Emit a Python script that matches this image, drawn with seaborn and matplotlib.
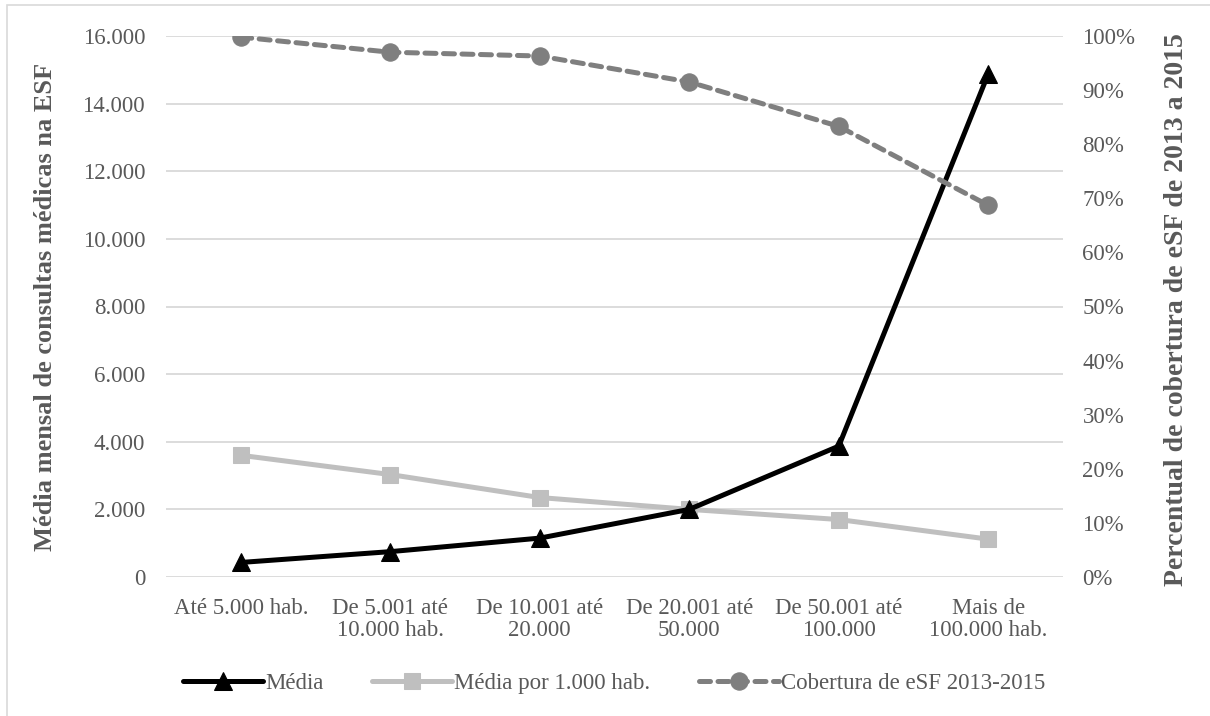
import matplotlib
matplotlib.use("Agg")
import matplotlib.pyplot as plt
import matplotlib.ticker as mticker
from matplotlib.patches import Rectangle
import seaborn as sns

categorias = ["Até 5.000 hab.", "De 5.001 até\n10.000 hab.", "De 10.001 até\n20.000",
              "De 20.001 até\n50.000", "De 50.001 até\n100.000", "Mais de\n100.000 hab."]
media = [430, 750, 1150, 2000, 3870, 14880]
media_por_mil = [3600, 3030, 2350, 2000, 1700, 1120]
cobertura = [0.998, 0.970, 0.963, 0.915, 0.833, 0.687]

cinza_texto = "#595959"

sns.set_style("white")
plt.rcParams["font.family"] = ["Liberation Serif", "DejaVu Serif"]

fig = plt.figure(figsize=(12.1, 7.16), dpi=100)
ax = fig.add_axes([166 / 1210, 1 - 577 / 716, (1063 - 166) / 1210, (577 - 36) / 716])
ax2 = ax.twinx()

sns.lineplot(x=categorias, y=media, ax=ax, sort=False, color="black", lw=3.6,
             marker="^", markersize=12.5, markeredgecolor="black", label="Média", zorder=4)
sns.lineplot(x=categorias, y=media_por_mil, ax=ax, sort=False, color="#BFBFBF", lw=3.6,
             marker="s", markersize=12, markeredgecolor="#BFBFBF",
             label="Média por 1.000 hab.", zorder=3)
sns.lineplot(x=categorias, y=cobertura, ax=ax2, sort=False, color="#7F7F7F", lw=3.6,
             linestyle=(0, (2.2, 1.5)), dash_capstyle="round",
             marker="o", markersize=12.5, markeredgecolor="#7F7F7F",
             label="Cobertura de eSF 2013-2015", zorder=3)

ax.set_xlim(-0.5, 5.5)
ax.set_ylim(0, 16000)
ax.set_yticks(range(0, 16001, 2000))
ax.yaxis.set_major_formatter(mticker.FuncFormatter(lambda v, p: f"{int(v):,}".replace(",", ".")))
ax2.set_ylim(0, 1)
ax2.set_yticks([i / 10 for i in range(11)])
ax2.yaxis.set_major_formatter(mticker.FuncFormatter(lambda v, p: f"{round(v * 100)}%"))

ax.grid(axis="y", color="#D9D9D9", lw=1.3)
ax.set_axisbelow(True)
for a in (ax, ax2):
    for s in a.spines.values():
        s.set_visible(False)
    a.tick_params(length=0, labelsize=16.5, labelcolor=cinza_texto)
ax.tick_params(axis="y", pad=15)
ax.tick_params(axis="x", pad=15)
ax2.tick_params(axis="y", pad=14)
for t in ax.get_xticklabels():
    t.set_linespacing(1.05)

ax.set_ylabel("Média mensal de consultas médicas na ESF", fontsize=19,
              fontweight="bold", color=cinza_texto)
ax.yaxis.set_label_coords(57 / 1210, 1 - 307 / 716, transform=fig.transFigure)
ax2.set_ylabel("Percentual de cobertura de eSF de 2013 a 2015", fontsize=20,
               fontweight="bold", color=cinza_texto)
ax2.yaxis.set_label_coords(1164 / 1210, 1 - 310 / 716, transform=fig.transFigure)

h1, l1 = ax.get_legend_handles_labels()
h2, l2 = ax2.get_legend_handles_labels()
ax.get_legend().remove()
ax2.get_legend().remove()
fig.legend(h1 + h2, l1 + l2, loc="center", bbox_to_anchor=(614 / 1210, 1 - 683 / 716), ncol=3,
           frameon=False, fontsize=16.5, handlelength=3.5, handletextpad=0.1,
           columnspacing=2.1, labelcolor=cinza_texto)

fig.patches.append(Rectangle((7 / 1210, -0.05), 1.2, 1 - 5 / 716 + 0.05,
                             transform=fig.transFigure, fill=False,
                             edgecolor="#D9D9D9", lw=1.2))

fig.savefig("out.png", dpi=100)
